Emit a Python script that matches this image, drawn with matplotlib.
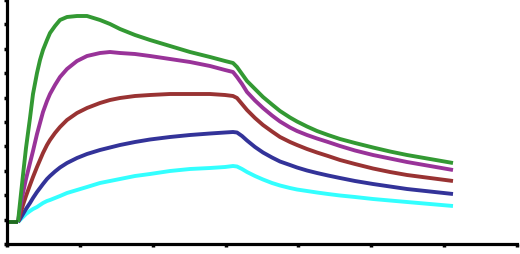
import matplotlib
matplotlib.use("Agg")
import matplotlib.pyplot as plt
import numpy as np

# time (arbitrary units)
time = [11, 13, 16, 19, 23, 26, 30, 33, 36, 40,
        43, 48, 53, 60, 70, 80, 93, 103, 113, 128,
        143, 163, 183, 203, 218, 226, 230, 235, 240, 248,
        256, 265, 273, 283, 290, 300, 310, 321, 333, 348,
        366, 383, 400, 423, 446]

baseline_time = [0, 11]
baseline_value = [22, 22]

green = [22, 41, 69, 96, 126, 150, 171, 184, 194, 204,
         211, 218, 224, 227, 228, 228, 224, 220, 215, 209,
         204, 198, 192, 187, 183, 181, 177, 170, 163, 155,
         147, 139.5, 133, 126.5, 122.5, 117.5, 113, 109, 105, 101,
         96.5, 92.5, 89, 85, 81]
purple = [22, 35, 51, 65, 81, 93, 110, 121, 132, 143,
          150, 159, 167, 175, 183, 188, 191, 192, 191, 190,
          188, 185, 182, 178, 174, 172, 167, 160, 152, 143.5,
          136, 128.5, 122.5, 116.5, 113, 109, 105.5, 102, 98, 93.5,
          89, 85.5, 82, 78, 74]
darkred = [22, 29, 39, 48, 59, 67, 77, 84, 91, 99,
           104, 111, 117, 124, 131, 136, 141, 144, 146, 148,
           149, 150, 150, 150, 149, 148, 146, 140, 134, 126,
           119, 112.5, 107, 102, 99, 95, 91.5, 88, 84, 80,
           75.5, 72, 69, 66, 63]
blue = [22, 25, 30, 35, 41, 46, 52, 56, 60, 65,
        68, 72.5, 76.5, 81, 86, 90, 94, 96.5, 99, 102,
        104.5, 107, 109, 110.5, 111.5, 112, 111.5, 108, 103.5, 97,
        91.5, 86.5, 82.5, 79, 76.5, 73.5, 71, 68.5, 66, 63,
        60, 57.5, 55, 52.5, 50]
cyan = [22, 24, 27, 30, 33, 35, 37, 39, 41, 43,
        44, 46, 48, 51, 54, 57, 61, 63, 65, 68,
        70, 73, 75, 76, 77, 78, 77.5, 75, 72, 68,
        64.5, 61, 58.5, 56, 54.5, 53, 51.5, 50, 48.5, 47,
        45, 43.5, 42, 40, 38]

series = [
    (cyan, "#33ffff"),
    (blue, "#333399"),
    (darkred, "#993333"),
    (purple, "#993399"),
    (green, "#339933"),
]

fig = plt.figure(figsize=(5.2, 2.54), dpi=100)
ax = fig.add_axes([7 / 520, 10 / 254, 510 / 520, 244 / 254])

for vals, col in series:
    ax.plot(time, vals, color=col, lw=2.8, solid_joinstyle="round", solid_capstyle="butt")
ax.plot(baseline_time, baseline_value, color="#1f6b1f", lw=2.8, solid_capstyle="butt")

ax.set_xlim(0, 510)
ax.set_ylim(0, 244)
ax.set_xticks(np.linspace(0, 510, 8))
ax.set_yticks(np.linspace(0, 244, 11))
ax.set_xticklabels([])
ax.set_yticklabels([])
for s in ["top", "right"]:
    ax.spines[s].set_visible(False)
for s in ["left", "bottom"]:
    ax.spines[s].set_linewidth(2.3)
    ax.spines[s].set_color("black")
ax.tick_params(direction="out", length=2.5, width=2.5, color="black")

fig.savefig("out.png", dpi=100)
